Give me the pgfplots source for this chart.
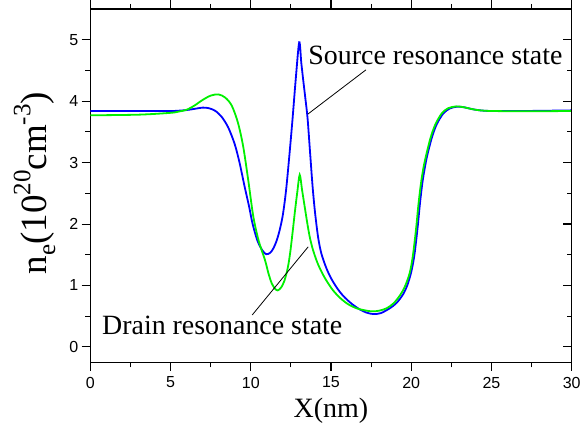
\documentclass[border=0pt]{standalone}
\usepackage{pgfplots}
\pgfplotsset{compat=1.18}
\usepackage{fontspec}
\setmainfont{Liberation Serif}
\newfontfamily\sansf{Liberation Sans}
\definecolor{cblue}{RGB}{0,0,255}
\definecolor{cgreen}{RGB}{0,240,0}
\newcommand{\supsz}{\fontsize{25}{25}\selectfont}
\begin{document}
\begin{tikzpicture}
\path[use as bounding box] (0,0) rectangle (582pt,429pt);
\begin{axis}[
  at={(90.3pt,66.7pt)}, anchor=south west,
  scale only axis, width=481.4pt, height=353.3pt,
  xmin=0, xmax=30, ymin=-0.25, ymax=5.5,
  xtick={0,5,...,30}, ytick={0,1,2,3,4,5},
  minor x tick num=1, minor y tick num=1,
  tick align=outside, ytick pos=left,
  major tick length=8.6pt, minor tick length=5pt,
  tick style={line width=1.1pt, black},
  axis line style={line width=1.2pt},
  /pgf/number format/assume math mode=true,
  ticklabel style={font=\sansf\fontsize{16}{16}\selectfont},
  xticklabel style={yshift=-2.5pt},
  xlabel={X(nm)},
  xlabel style={at={(axis description cs:0.5,-0.155)}, anchor=base, inner sep=0pt, font=\fontsize{28}{30}\selectfont},
  ylabel={n\raisebox{-0.22em}{\supsz e}(10\raisebox{0.45em}{\supsz 20}cm\raisebox{0.45em}{\supsz -3})},
  ylabel style={at={(axis description cs:-0.09,0.5075)}, anchor=base, inner sep=0pt, font=\fontsize{37}{40}\selectfont},
]
\addplot[cblue, line width=1.8pt, smooth, tension=0.5] coordinates {
(0,3.84) (3,3.84) (5,3.84) (5.5,3.845) (6,3.855) (6.5,3.875) (7.0,3.895) (7.4,3.885)
(7.8,3.84) (8.2,3.74) (8.6,3.57) (9.0,3.30) (9.3,3.00) (9.6,2.63) (9.9,2.28) (10.1,2.02)
(10.4,1.74) (10.7,1.58) (10.95,1.51) (11.2,1.53) (11.4,1.60) (11.6,1.72) (11.8,1.90)
(12.0,2.15) (12.2,2.55) (12.4,3.10) (12.6,3.70) (12.8,4.35) (13.02,4.96)
(13.15,4.62) (13.27,4.34) (13.4,4.05) (13.54,3.72) (13.7,3.15) (13.85,2.62) (14.0,2.20)
(14.2,1.78) (14.4,1.52) (14.7,1.29) (15.0,1.12) (15.4,0.95) (15.8,0.82) (16.3,0.70)
(16.8,0.61) (17.2,0.56) (17.63,0.535) (18.1,0.55) (18.67,0.63) (19.1,0.72) (19.5,0.86)
(19.75,1.00) (20.0,1.22) (20.2,1.50) (20.4,1.95) (20.55,2.35) (20.7,2.68) (20.85,2.92)
(21.0,3.12) (21.3,3.42) (21.6,3.63) (22.0,3.80) (22.4,3.88)
(22.85,3.91) (23.3,3.90) (23.8,3.87) (24.3,3.85) (25,3.84) (27,3.84) (30,3.85)
};
\addplot[cgreen, line width=1.8pt, smooth, tension=0.5] coordinates {
(0,3.77) (3,3.78) (5,3.81) (5.5,3.83) (6.0,3.86) (6.5,3.93) (7.0,4.02) (7.5,4.09)
(7.98,4.11) (8.4,4.06) (8.81,3.93) (9.2,3.65) (9.53,3.26) (9.85,2.70) (10.16,2.12)
(10.5,1.72) (10.88,1.42) (11.1,1.20) (11.3,1.04) (11.5,0.95) (11.68,0.92) (11.9,0.97)
(12.1,1.08) (12.3,1.28) (12.45,1.52) (12.6,1.85) (12.75,2.20) (12.9,2.52) (13.05,2.80)
(13.2,2.55) (13.38,2.25) (13.55,1.97) (13.7,1.76) (13.9,1.56) (14.2,1.34) (14.6,1.13)
(15.1,0.93) (15.6,0.79) (16.1,0.69) (16.7,0.62) (17.5,0.58) (18.0,0.59) (18.47,0.63)
(18.9,0.71) (19.3,0.84) (19.6,0.98) (19.9,1.20) (20.1,1.48) (20.3,1.92) (20.45,2.32)
(20.6,2.65) (20.75,2.90) (20.92,3.11) (21.2,3.40) (21.5,3.62) (21.9,3.80) (22.3,3.885)
(22.8,3.915) (23.3,3.90) (23.8,3.87) (24.3,3.85) (25,3.84) (27,3.835) (30,3.84)
};
\node[anchor=base west, inner sep=0pt, font=\fontsize{27.9}{30}\selectfont] at (axis cs:13.58,4.60) {Source resonance state};
\node[anchor=base west, inner sep=0pt, font=\fontsize{27.9}{30}\selectfont] at (axis cs:0.73,0.20) {Drain resonance state};
\draw[line width=0.8pt] (axis cs:17.18,4.51) -- (axis cs:13.56,3.79);
\draw[line width=0.8pt] (axis cs:10.09,0.52) -- (axis cs:13.58,1.63);
\end{axis}
\begin{axis}[
  at={(90.3pt,66.7pt)}, anchor=south west,
  scale only axis, width=481.4pt, height=353.3pt,
  xmin=0, xmax=30, ymin=-0.25, ymax=5.5,
  hide x axis, axis y line*=right,
  ytick={0,1,2,3,4,5}, minor y tick num=1, yticklabels={},
  tick align=inside,
  major tick length=8.6pt, minor tick length=5pt,
  tick style={line width=1.1pt, black},
  axis line style={line width=1.2pt},
]
\end{axis}
\end{tikzpicture}
\end{document}
